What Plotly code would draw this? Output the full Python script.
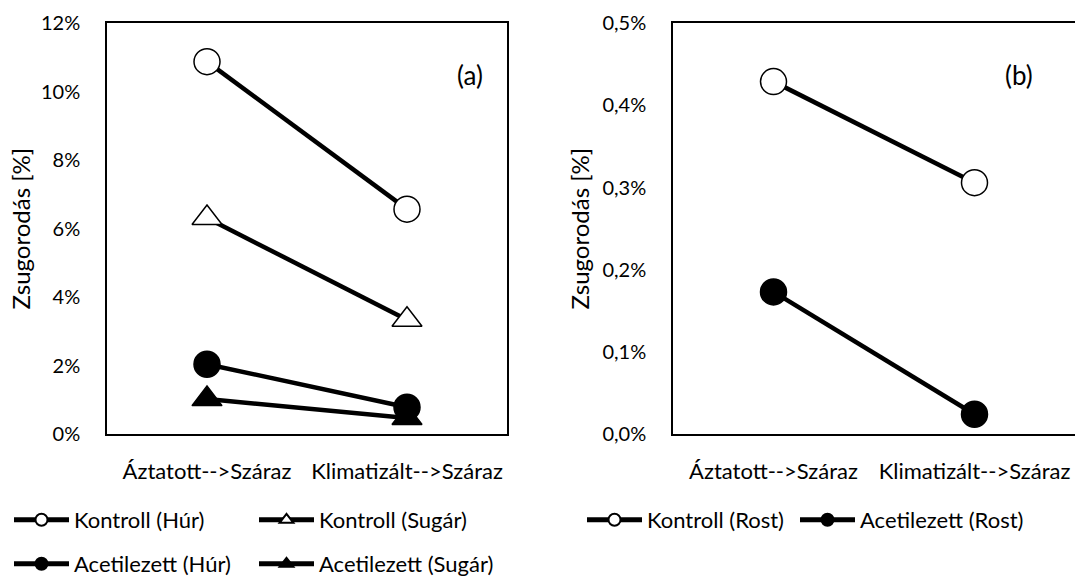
import plotly.graph_objects as go

categories = ["Áztatott-->Száraz", "Klimatizált-->Száraz"]

# panel (a) values, fractions (percent/100)
kontroll_hur = [0.1088, 0.0657]
kontroll_sugar = [0.0631, 0.0334]
acetil_hur = [0.0204, 0.0078]
acetil_sugar = [0.0102, 0.0047]

# panel (b)
kontroll_rost = [0.00429, 0.00306]
acetil_rost = [0.00173, 0.00024]

FONT = "Lato"
LW = 4.5
MS = 26

fig = go.Figure()

def add(x, y, name, symbol, filled, xa, ya, legend, lw=None):
    fig.add_trace(go.Scatter(
        x=x, y=y, name=name, mode="lines+markers",
        xaxis=xa, yaxis=ya, legend=legend, legendwidth=lw,
        line=dict(color="black", width=LW),
        marker=dict(symbol=symbol, size=MS,
                    color="black" if filled else "white",
                    line=dict(color="black", width=1.5)),
    ))

add(categories, kontroll_hur, "Kontroll (Húr)", "circle", False, "x", "y", "legend", 175)
add(categories, kontroll_sugar, "Kontroll (Sugár)", "triangle-up", False, "x", "y", "legend")
add(categories, acetil_hur, "Acetilezett (Húr)", "circle", True, "x", "y", "legend2", 175)
add(categories, acetil_sugar, "Acetilezett (Sugár)", "triangle-up", True, "x", "y", "legend2")
add(categories, kontroll_rost, "Kontroll (Rost)", "circle", False, "x2", "y2", "legend3", 143)
add(categories, acetil_rost, "Acetilezett (Rost)", "circle", True, "x2", "y2", "legend3")

W, H = 1075, 576
def px(x): return x / W
def py(y): return 1 - y / H

xaxis_common = dict(showline=True, linecolor="black", linewidth=1.5,
                    showgrid=False, zeroline=False, ticks="",
                    type="category", range=[-0.5, 1.5], ticklabelstandoff=17,
                    tickfont=dict(family=FONT, size=22, color="black"))
yaxis_common = dict(showline=True, linecolor="black", linewidth=1.5,
                    showgrid=False, zeroline=False, ticks="", ticklabelstandoff=21,
                    tickfont=dict(family=FONT, size=20, color="black"))
title_font = dict(family=FONT, size=24, color="black")

legend_common = dict(orientation="h", bgcolor="rgba(0,0,0,0)", borderwidth=0,
                     font=dict(family=FONT, size=22, color="black"),
                     itemwidth=55, itemsizing="constant",
                     xanchor="left", yanchor="middle",
                     itemclick=False, itemdoubleclick=False)

fig.update_layout(
    width=W, height=H,
    margin=dict(l=0, r=0, t=0, b=0, autoexpand=False),
    paper_bgcolor="white", plot_bgcolor="white",
    separators=", ",
    font=dict(family=FONT, size=20, color="black"),
    xaxis=dict(domain=[px(107), px(507)], anchor="y", mirror=True, **xaxis_common),
    yaxis=dict(domain=[py(434), py(23.3)], range=[0, 0.12], dtick=0.02,
               tickformat=".0%", anchor="x", mirror=True,
               title=dict(text="Zsugorodás [%]", font=title_font, standoff=4),
               **yaxis_common),
    xaxis2=dict(domain=[px(673), 1.0], anchor="y2", mirror=True, **xaxis_common),
    yaxis2=dict(domain=[py(434), py(23.3)], range=[0, 0.005], dtick=0.001,
                tickformat=".1%", anchor="x2", mirror=False,
                title=dict(text="Zsugorodás [%]", font=title_font, standoff=6),
                **yaxis_common),
    legend=dict(x=px(9), y=py(520), **legend_common),
    legend2=dict(x=px(9), y=py(564), **legend_common),
    legend3=dict(x=px(582), y=py(520), **legend_common),
    annotations=[
        dict(text="(a)", x=px(470), y=py(57), xref="paper", yref="paper",
             showarrow=False, font=dict(family=FONT, size=26, color="black")),
        dict(text="(b)", x=px(1035), y=py(57), xref="paper", yref="paper",
             showarrow=False, font=dict(family=FONT, size=26, color="black")),
    ],
)

fig.write_html("out.html", config={"displayModeBar": False},
               post_script="document.body.style.margin='0px';")
